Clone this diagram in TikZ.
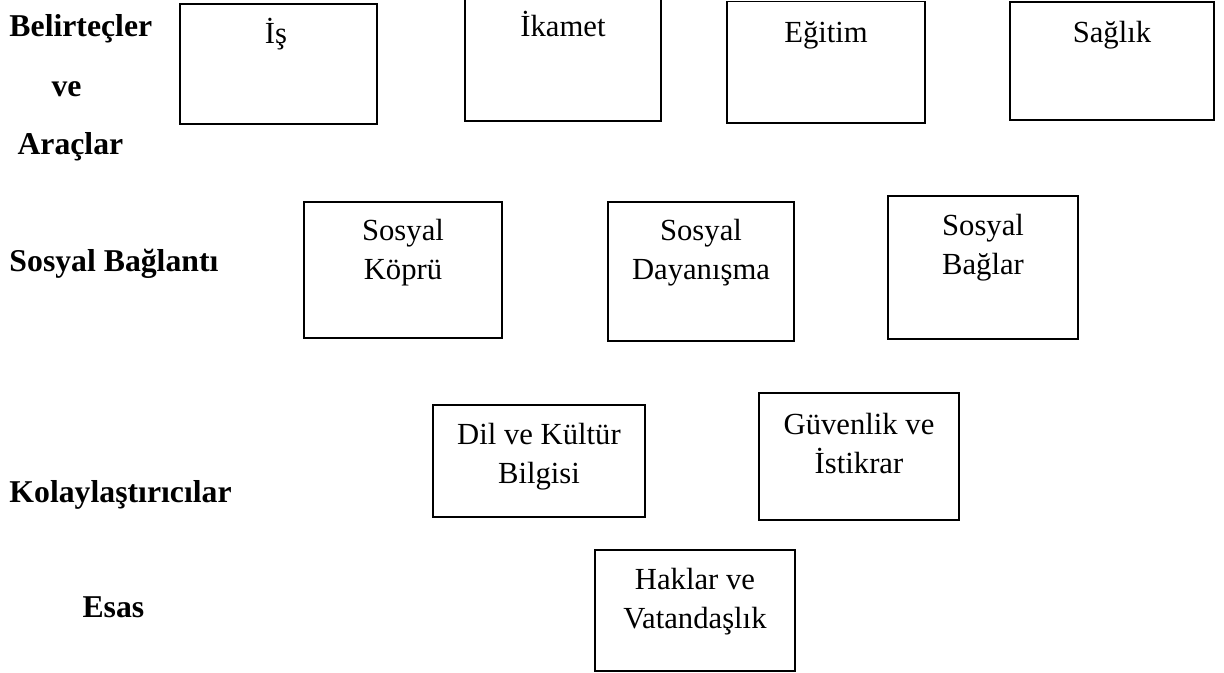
\documentclass[tikz,border=0pt]{standalone}
\usepackage{fontspec}
\setmainfont{Liberation Serif}

\tikzset{every picture/.style={line width=0.75pt}}
\tikzset{
  kutu/.style={draw={rgb, 255:red, 0; green, 0; blue, 0 }, line width=1pt},
  kutuyazi/.style={anchor=base, align=center, inner sep=0pt, font=\fontsize{23}{29.25}\selectfont},
  baslik/.style={anchor=base west, inner sep=0pt, font=\fontsize{23.8}{29.25}\selectfont\bfseries}
}

\begin{document}
\begin{tikzpicture}[x=0.75pt,y=0.75pt,yscale=-1,xscale=1]
    \useasboundingbox (0,0) rectangle (1224,673);

    %Shape: Rectangle [Is]
    \draw [kutu] (180,4) -- (377,4) -- (377,124) -- (180,124) -- cycle ;
    %Shape: Rectangle [Ikamet] (top edge off the page)
    \draw [kutu] (465,0) -- (465,121) -- (661,121) -- (661,0) ;
    %Shape: Rectangle [Egitim]
    \draw [kutu] (727,1.5) -- (925,1.5) -- (925,123) -- (727,123) -- cycle ;
    %Shape: Rectangle [Saglik]
    \draw [kutu] (1010,2) -- (1214,2) -- (1214,120) -- (1010,120) -- cycle ;
    %Shape: Rectangle [Sosyal Kopru]
    \draw [kutu] (304,202) -- (502,202) -- (502,338) -- (304,338) -- cycle ;
    %Shape: Rectangle [Sosyal Dayanisma]
    \draw [kutu] (608,202) -- (794,202) -- (794,341) -- (608,341) -- cycle ;
    %Shape: Rectangle [Sosyal Baglar]
    \draw [kutu] (888,196) -- (1078,196) -- (1078,339) -- (888,339) -- cycle ;
    %Shape: Rectangle [Dil ve Kultur]
    \draw [kutu] (433,405) -- (645,405) -- (645,517) -- (433,517) -- cycle ;
    %Shape: Rectangle [Guvenlik]
    \draw [kutu] (759,393) -- (959,393) -- (959,520) -- (759,520) -- cycle ;
    %Shape: Rectangle [Haklar]
    \draw [kutu] (595,550) -- (795,550) -- (795,671) -- (595,671) -- cycle ;

    % row titles
    \draw (9,37) node [baslik] (belirtecler) {Belirteçler};
    \draw (51,97) node [baslik] (ve) {ve};
    \draw (17,155) node [baslik] (araclar) {Araçlar};
    \draw (9,272) node [baslik] (sosyalbaglanti) {Sosyal Bağlantı};
    \draw (9,502) node [baslik] (kolaylastiricilar) {Kolaylaştırıcılar};
    \draw (82,617) node [baslik] (esas) {Esas};

    % box texts (base = baseline of the last line)
    \draw (276,44) node [kutuyazi] (is) {İş};
    \draw (563,37) node [kutuyazi] (ikamet) {İkamet};
    \draw (826,43) node [kutuyazi] (egitim) {Eğitim};
    \draw (1112,43) node [kutuyazi] (saglik) {Sağlık};
    \draw (403,280) node [kutuyazi] (kopru) {Sosyal\\Köprü};
    \draw (701,280) node [kutuyazi] (dayanisma) {Sosyal\\Dayanışma};
    \draw (983,275) node [kutuyazi] (baglar) {Sosyal\\Bağlar};
    \draw (539,483) node [kutuyazi] (dilkultur) {Dil ve Kültür\\Bilgisi};
    \draw (859,473) node [kutuyazi] (guvenlik) {Güvenlik ve\\İstikrar};
    \draw (695,628) node [kutuyazi] (haklar) {Haklar ve\\Vatandaşlık};

\end{tikzpicture}
\end{document}
